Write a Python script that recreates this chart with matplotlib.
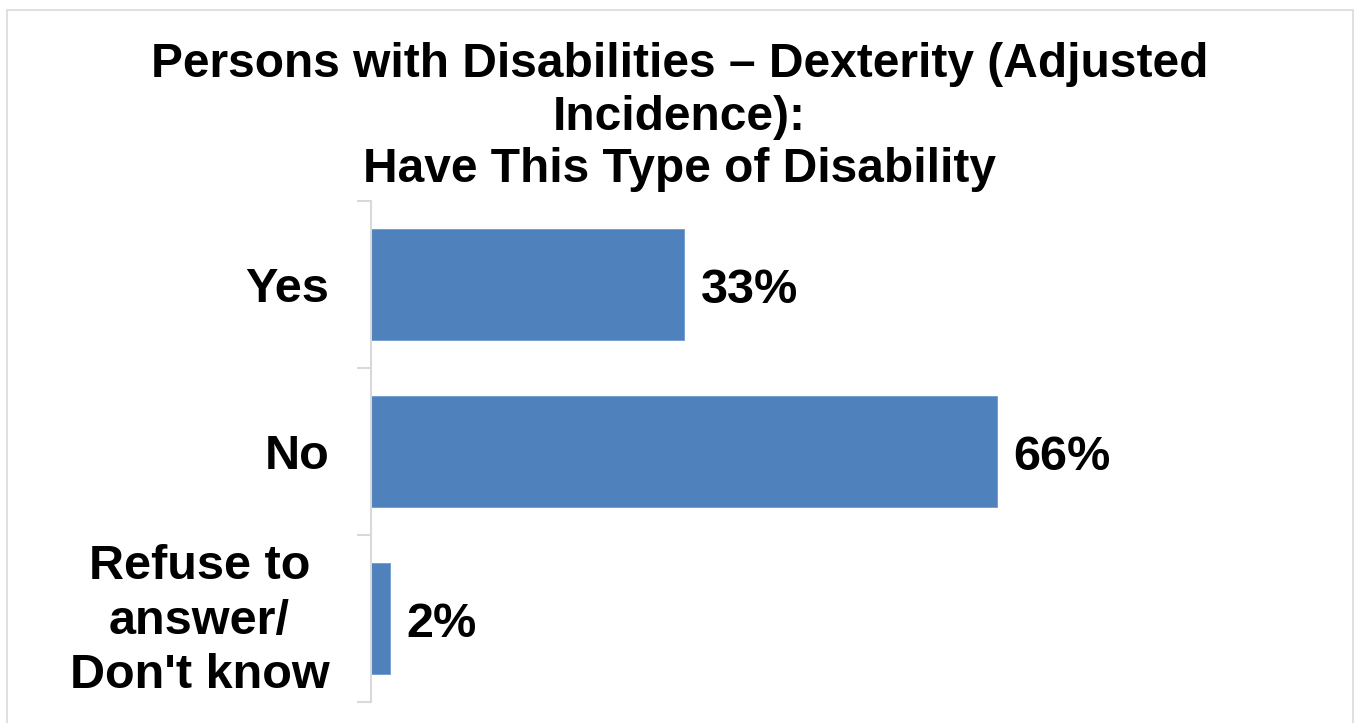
import matplotlib
matplotlib.use("Agg")
import matplotlib.pyplot as plt
from matplotlib.patches import Rectangle
from matplotlib.transforms import ScaledTranslation

# Chart data
categories = ["Yes", "No", "Refuse to\nanswer/\nDon't know"]
values = [33, 66, 2]
value_labels = ["33%", "66%", "2%"]
title = "Persons with Disabilities \u2013 Dexterity (Adjusted\nIncidence):\nHave This Type of Disability"

BAR_COLOR = "#4f81bd"
GRID_GRAY = "#d9d9d9"

plt.rcParams["font.family"] = ["Liberation Sans", "DejaVu Sans"]
plt.rcParams["font.weight"] = "bold"

fig = plt.figure(figsize=(13.54, 7.23), dpi=100)
ax = fig.add_axes([371 / 1354, 21 / 723, 948 / 1354, 501 / 723])

ypos = list(range(len(categories)))
bars = ax.barh(ypos, values, height=0.665, color=BAR_COLOR, edgecolor="#6f9bd0", linewidth=0.6)

for bar, lbl in zip(bars, value_labels):
    ax.annotate(lbl, (bar.get_width(), bar.get_y() + bar.get_height() / 2),
                xytext=(12, -4), textcoords="offset points",
                ha="left", va="center", fontsize=35, fontweight="bold")

ax.set_xlim(0, 100)
ax.set_ylim(len(categories) - 0.5, -0.5)

# category boundaries as major ticks, labels on minor ticks
ax.set_yticks([i - 0.5 for i in range(len(categories) + 1)])
ax.set_yticklabels([])
ax.set_yticks(ypos, minor=True)
ax.set_yticklabels(categories, minor=True, fontsize=35, fontweight="bold",
                   multialignment="center", linespacing=1.27)
ax.tick_params(axis="y", which="major", length=10, width=1.5, color=GRID_GRAY, direction="out")
ax.tick_params(axis="y", which="minor", length=0, pad=30)
ax.set_xticks([])

# the three-line label sits a little high in the original
multi = ax.get_yticklabels(minor=True)[-1]
multi.set_transform(multi.get_transform() + ScaledTranslation(0, 5 / 72, fig.dpi_scale_trans))

for side in ["top", "right", "bottom"]:
    ax.spines[side].set_visible(False)
ax.spines["left"].set_color(GRID_GRAY)
ax.spines["left"].set_linewidth(1.5)

fig.text(0.502, 0.942, title, ha="center", va="top", fontsize=34.5,
         fontweight="bold", linespacing=1.22)

# light outer frame of the chart area
fig.patches.append(Rectangle((7 / 1354, -0.05), 1346 / 1354, 1.05 - 10 / 723,
                             transform=fig.transFigure, fill=False,
                             edgecolor=GRID_GRAY, linewidth=1.2))

fig.savefig("out.png", dpi=100)
